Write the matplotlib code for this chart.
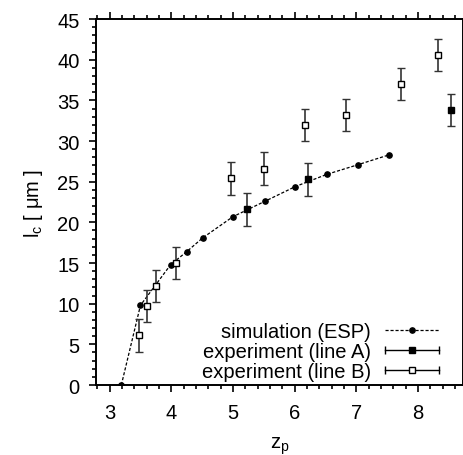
import matplotlib
matplotlib.use("Agg")
import matplotlib.pyplot as plt
from matplotlib.lines import Line2D
from matplotlib.legend_handler import HandlerLine2D, HandlerTuple
from matplotlib.ticker import MultipleLocator

plt.rcParams["font.family"] = ["Liberation Sans", "DejaVu Sans"]
plt.rcParams["mathtext.fontset"] = "custom"
plt.rcParams["mathtext.rm"] = "Liberation Sans"
plt.rcParams["mathtext.it"] = "Liberation Sans"

# simulation (ESP)
zp_sim = [3.19, 3.50, 3.99, 4.25, 4.51, 5.00, 5.52, 6.01, 6.52, 7.03, 7.53]
lc_sim = [0.0, 9.8, 14.8, 16.4, 18.1, 20.7, 22.6, 24.4, 25.9, 27.1, 28.3]

# experiment (line A)
zp_a = [5.22, 6.21, 8.53]
lc_a = [21.6, 25.3, 33.8]
err_a = [2.0, 2.0, 2.0]

# experiment (line B)
zp_b = [3.48, 3.61, 3.75, 4.07, 4.96, 5.51, 6.17, 6.83, 7.73, 8.33]
lc_b = [6.1, 9.7, 12.2, 15.0, 25.4, 26.6, 32.0, 33.2, 37.0, 40.6]
err_b = [2.0, 2.0, 2.0, 2.0, 2.0, 2.0, 2.0, 2.0, 2.0, 2.0]

fs = 14.5

fig = plt.figure(figsize=(4.64, 4.56), dpi=100)
ax = fig.add_axes([0.207, 0.1535, 0.791, 0.8025])

ax.plot(zp_sim, lc_sim, "k--", lw=0.9, dashes=(2.5, 1.5), marker="o", ms=3.8, zorder=3)
ax.errorbar(zp_a, lc_a, yerr=err_a, fmt="s", color="k", ms=5, mfc="k",
            ecolor="#333333", elinewidth=1.2, capsize=3, capthick=1.0, zorder=4)
ax.errorbar(zp_b, lc_b, yerr=err_b, fmt="s", color="k", ms=5, mfc="white", mew=1.0,
            ecolor="#333333", elinewidth=1.2, capsize=3, capthick=1.0, zorder=4)

ax.set_xlim(2.78, 8.73)
ax.set_ylim(0, 45)
ax.xaxis.set_major_locator(MultipleLocator(1))
ax.xaxis.set_minor_locator(MultipleLocator(0.2))
ax.yaxis.set_major_locator(MultipleLocator(5))
ax.yaxis.set_minor_locator(MultipleLocator(1))
ax.tick_params(which="both", direction="out", top=True, right=False, width=1.2)
ax.tick_params(which="major", length=5, labelsize=fs)
ax.tick_params(which="minor", length=3)
ax.tick_params(axis="x", which="major", pad=8)
ax.tick_params(axis="y", which="major", pad=7)
for s in ax.spines.values():
    s.set_linewidth(1.4)

ax.set_xlabel(r"z$_\mathregular{p}$", fontsize=fs, labelpad=9)
ax.set_ylabel(r"l$_\mathregular{c}$ [ μm ]", fontsize=fs, labelpad=9)

# gnuplot-like legend keys
h_sim = Line2D([], [], color="k", ls="--", dashes=(2.5, 1.5), lw=0.9, marker="o", ms=3.8)
caps_a = Line2D([], [], color="k", lw=1.0, marker="|", ms=6)
sq_a = Line2D([], [], color="k", ls="none", marker="s", ms=4.5, mfc="k")
caps_b = Line2D([], [], color="k", lw=1.0, marker="|", ms=6)
sq_b = Line2D([], [], color="k", ls="none", marker="s", ms=4.5, mfc="white")
hmap = {
    caps_a: HandlerLine2D(numpoints=2, marker_pad=0),
    caps_b: HandlerLine2D(numpoints=2, marker_pad=0),
    sq_a: HandlerLine2D(numpoints=1),
    sq_b: HandlerLine2D(numpoints=1),
    tuple: HandlerTuple(ndivide=1, pad=0),
}
ax.legend([h_sim, (caps_a, sq_a), (caps_b, sq_b)],
          ["simulation (ESP)", "experiment (line A)", "experiment (line B)"],
          handler_map=hmap, loc="lower right", bbox_to_anchor=(0.935, 0.01),
          markerfirst=False, frameon=False, fontsize=fs, handlelength=2.7,
          handletextpad=0.7, labelspacing=0.05, borderpad=0, borderaxespad=0,
          numpoints=1)

fig.savefig("out.png", dpi=100)
